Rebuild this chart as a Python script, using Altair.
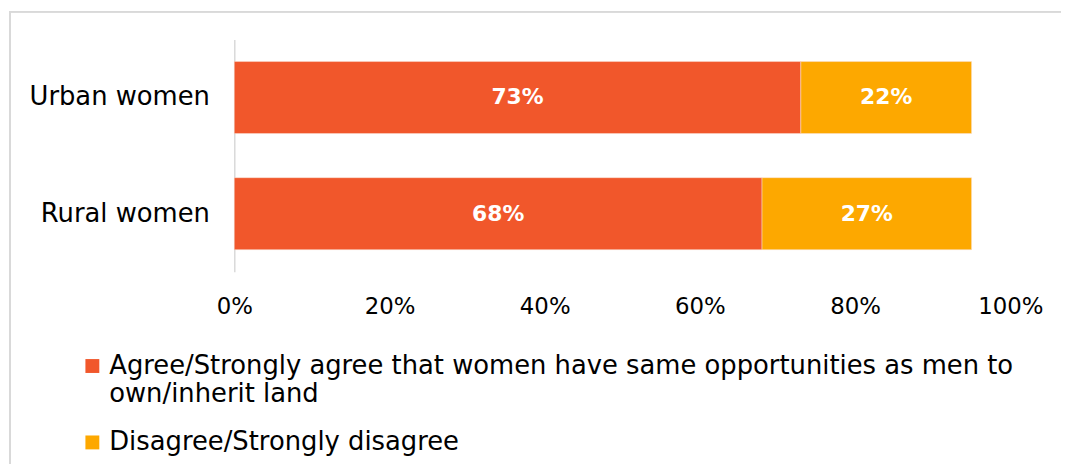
import altair as alt
import pandas as pd

categories = ["Urban women", "Rural women"]
agree = [73, 68]
disagree = [22, 27]
series = [
    "Agree/Strongly agree that women have same opportunities as men to|own/inherit land",
    "Disagree/Strongly disagree",
]
colors = ["#F1572B", "#FDA800"]

rows = []
for c, a, d in zip(categories, agree, disagree):
    rows.append({"cat": c, "series": series[0], "value": a / 100, "order": 0})
    rows.append({"cat": c, "series": series[1], "value": d / 100, "order": 1})
df = pd.DataFrame(rows)

FONT = "DejaVu Sans"

bars = alt.Chart(df).mark_bar(stroke="#FBE3D6", strokeWidth=0.5).encode(
    y=alt.Y(
        "cat:N",
        sort=categories,
        title=None,
        scale=alt.Scale(paddingInner=0.38, paddingOuter=0.19),
        axis=alt.Axis(
            domain=True,
            domainColor="#D9D9D9",
            domainWidth=1.5,
            ticks=False,
            labelFontSize=26,
            labelColor="#000000",
            labelFont=FONT,
            labelPadding=25,
            labelLimit=400,
        ),
    ),
    x=alt.X(
        "value:Q",
        stack="zero",
        scale=alt.Scale(domain=[0, 1], nice=False),
        title=None,
        axis=alt.Axis(
            format=".0%",
            values=[0, 0.2, 0.4, 0.6, 0.8, 1.0],
            domain=False,
            grid=False,
            ticks=False,
            labelFontSize=23,
            labelColor="#000000",
            labelFont=FONT,
            labelPadding=24,
            labelFlush=False,
        ),
    ),
    color=alt.Color(
        "series:N",
        sort=series,
        scale=alt.Scale(domain=series, range=colors),
        legend=alt.Legend(
            title=None,
            orient="none",
            legendX=-156,
            legendY=316,
            direction="vertical",
            symbolType="square",
            symbolSize=196,
            symbolStrokeWidth=0,
            labelFontSize=26,
            labelFont=FONT,
            labelColor="#000000",
            labelLimit=1000,
            labelOffset=4,
            rowPadding=23,
            labelExpr="split(datum.label, '|')",
            labelBaseline="middle",
        ),
    ),
    order=alt.Order("order:Q"),
)

text = alt.Chart(df).transform_stack(
    stack="value", groupby=["cat"], as_=["v0", "v1"], sort=[alt.SortField("order")]
).transform_calculate(
    mid="(datum.v0 + datum.v1) / 2"
).mark_text(color="white", fontSize=22, fontWeight="bold", font=FONT).encode(
    y=alt.Y("cat:N", sort=categories),
    x=alt.X("mid:Q"),
    text=alt.Text("value:Q", format=".0%"),
)

frame = alt.Chart(df).mark_rect(
    fill=None, stroke="#D9D9D9", strokeWidth=1.5, clip=False
).encode(
    x=alt.value(-226), x2=alt.value(860), y=alt.value(-28), y2=alt.value(460)
)

chart = alt.layer(frame, bars, text).properties(
    width=782,
    height=234,
    background="white",
    autosize=alt.AutoSizeParams(type="none"),
    padding={"left": 228, "top": 30, "right": 51, "bottom": 192},
).configure_view(strokeWidth=0)

chart.save("out.html", embed_options={"renderer": "svg", "actions": False})
